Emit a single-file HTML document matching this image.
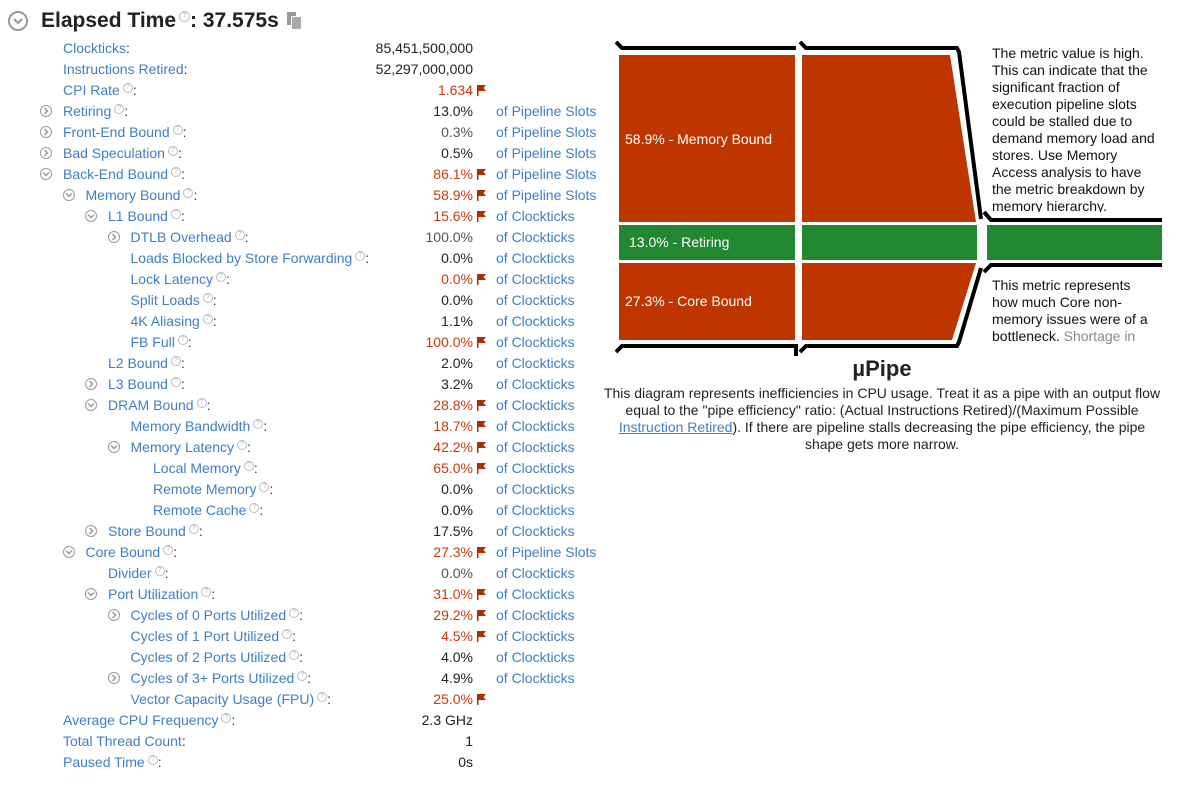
<!DOCTYPE html>
<html><head><meta charset="utf-8">
<style>
body{margin:0;width:1198px;height:786px;background:#fff;font-family:"Liberation Sans",sans-serif;position:relative;overflow:hidden}
.abs{position:absolute;white-space:nowrap}
.row{position:absolute;left:0;height:21px;line-height:21px;font-size:14px;width:610px}
.lbl{position:absolute;color:#3c7fc7}
.val{position:absolute;right:137px;text-align:right}
.flag{position:absolute;left:477px;top:5px;width:10px;height:11px}
.flag svg{display:block}
.unit{position:absolute;left:496px;color:#3c7fc7}
.tog{position:absolute;width:10px;height:10px;border:1.5px solid #999;border-radius:50%;top:4px}
.tog svg{position:absolute;left:1px;top:1px}
.help{display:inline-block;width:8px;height:8px;border:1px solid #bbb;border-radius:50%;font-size:7px;line-height:8px;text-align:center;color:#bbb;vertical-align:6px;margin-left:3px}
.rt{position:absolute;font-size:14px;line-height:17px;color:#111;width:168px;white-space:normal;overflow:hidden}
</style></head><body>
<div class="abs" style="left:8px;top:11px;width:16px;height:16px;border:2px solid #999;border-radius:50%">
<svg width="16" height="16"><path d="M4 6 L8 10 L12 6" fill="none" stroke="#999" stroke-width="2"/></svg></div>
<div class="abs" style="left:41px;top:9px;font-size:21px;font-weight:bold;color:#222">Elapsed Time<span class="help" style="width:9px;height:9px;vertical-align:10px">?</span>: 37.575s</div>
<div class="abs" style="left:287px;top:12px;width:9px;height:13px;background:#999"><div style="position:absolute;left:4px;top:4px;width:9px;height:12px;background:#aaa;border-left:1px solid #fff;border-top:1px solid #fff"></div></div>
<div id="rows"></div>

<svg class="abs" style="left:0;top:0" width="1198" height="786">
<g>
<rect x="619" y="55" width="176" height="167" fill="#bf3500"/>
<polygon points="802,55 950,55 976,222 802,222" fill="#bf3500"/></g>
<g>
<rect x="619" y="225" width="176" height="35" fill="#218731"/>
<rect x="802" y="225" width="175" height="35" fill="#218731"/>
<rect x="987" y="225" width="175" height="35" fill="#218731"/></g>
<g>
<rect x="619" y="263" width="176" height="77" fill="#bf3500"/>
<polygon points="802,263 976,263 952,340 802,340" fill="#bf3500"/></g>
<g fill="none" stroke="#000" stroke-width="4">
<polyline points="616,42 622,48 796,48"/>
<polyline points="800,42 806,48 957,48 959,52 981,219"/>
<polyline points="984,212 991,220 1162,220"/>
<polyline points="616,352 622,346 796,346 796,356"/>
<polyline points="800,352 806,346 957,346 959,342 981,268"/>
<polyline points="984,272 991,265 1162,265"/>
</g>
<text x="625" y="144" font-size="14" fill="#fff" font-family="Liberation Sans">58.9% - Memory Bound</text>
<text x="629" y="247" font-size="14" fill="#fff" font-family="Liberation Sans">13.0% - Retiring</text>
<text x="625" y="306" font-size="14" fill="#fff" font-family="Liberation Sans">27.3% - Core Bound</text>
</svg>
<div class="rt" style="left:992px;top:45px;height:167px">The metric value is high. This can indicate that the significant fraction of execution pipeline slots could be stalled due to demand memory load and stores. Use Memory Access analysis to have the metric breakdown by memory hierarchy.</div>
<div class="rt" style="left:992px;top:277px;height:68px">This metric represents how much Core non-memory issues were of a bottleneck. <span style="color:#888">Shortage in</span></div>
<div class="abs" style="left:782px;top:356px;width:200px;text-align:center;font-size:22px;font-weight:bold;color:#222">µPipe</div>
<div class="abs" style="left:600px;top:385px;width:564px;white-space:normal;text-align:center;font-size:14px;line-height:17px;color:#222">This diagram represents inefficiencies in CPU usage. Treat it as a pipe with an output flow equal to the "pipe efficiency" ratio: (Actual Instructions Retired)/(Maximum Possible <a style="color:#3c7fc7;text-decoration:underline">Instruction Retired</a>). If there are pipeline stalls decreasing the pipe efficiency, the pipe shape gets more narrow.</div>

<script>
const labels=["Clockticks","Instructions Retired","CPI Rate","Retiring","Front-End Bound","Bad Speculation","Back-End Bound","Memory Bound","L1 Bound","DTLB Overhead","Loads Blocked by Store Forwarding","Lock Latency","Split Loads","4K Aliasing","FB Full","L2 Bound","L3 Bound","DRAM Bound","Memory Bandwidth","Memory Latency","Local Memory","Remote Memory","Remote Cache","Store Bound","Core Bound","Divider","Port Utilization","Cycles of 0 Ports Utilized","Cycles of 1 Port Utilized","Cycles of 2 Ports Utilized","Cycles of 3+ Ports Utilized","Vector Capacity Usage (FPU)","Average CPU Frequency","Total Thread Count","Paused Time"];
const levels=[0,0,0,0,0,0,0,1,2,3,3,3,3,3,3,2,2,2,3,3,4,4,4,2,1,2,2,3,3,3,3,3,0,0,0];
const toggles=["","","","c","c","c","o","o","o","c","","","","","","","c","o","","o","","","","c","o","","o","c","","","c","","","",""];
const values=["85,451,500,000","52,297,000,000","1.634","13.0%","0.3%","0.5%","86.1%","58.9%","15.6%","100.0%","0.0%","0.0%","0.0%","1.1%","100.0%","2.0%","3.2%","28.8%","18.7%","42.2%","65.0%","0.0%","0.0%","17.5%","27.3%","0.0%","31.0%","29.2%","4.5%","4.0%","4.9%","25.0%","2.3 GHz","1","0s"];
const flagged=[0,0,1,0,0,0,1,1,1,0,0,1,0,0,1,0,0,1,1,1,1,0,0,0,1,0,1,1,1,0,0,1,0,0,0];
const units=["","","","P","P","P","P","P","C","C","C","C","C","C","C","C","C","C","C","C","C","C","C","C","P","C","C","C","C","C","C","","","",""];
const noHelp=[0,1,33];
const grey=[4,9,25];
const host=document.getElementById('rows');
labels.forEach((t,i)=>{
 const r=document.createElement('div');r.className='row';r.style.top=(38+21*i)+'px';
 
 
 const lx=63+22.5*levels[i];
 const tg=toggles[i];
 if(tg){const c=document.createElement('div');c.className='tog';c.style.left=(lx-23)+'px';
  c.innerHTML=tg==='o'?'<svg width="8" height="8"><path d="M1 2.5 L4 5.5 L7 2.5" fill="none" stroke="#999" stroke-width="1.5"/></svg>':'<svg width="8" height="8"><path d="M2.5 1 L5.5 4 L2.5 7" fill="none" stroke="#999" stroke-width="1.5"/></svg>';
  
  r.appendChild(c);}
 const l=document.createElement('span');l.className='lbl';l.style.left=lx+'px';
 l.innerHTML=t+(noHelp.includes(i)?'':'<span class="help">?</span>')+'<span style="color:#333">:</span>';
 
 r.appendChild(l);
 const v=document.createElement('span');v.className='val';v.textContent=values[i];
 v.style.color=flagged[i]?'#cc3a0a':(grey.includes(i)?'#555':'#222');
 
 r.appendChild(v);
 if(flagged[i]){const f=document.createElement('div');f.className='flag';
  f.innerHTML='<svg width="10" height="11"><rect x="0" y="0" width="1.5" height="11" fill="#b32c00"/><path d="M1.5 0 H9 L6.5 3 L9 6 H1.5Z" fill="#b32c00"/></svg>';
  
  r.appendChild(f);}
 const u=units[i];
 if(u){const s=document.createElement('span');s.className='unit';s.textContent=u==='P'?'of Pipeline Slots':'of Clockticks';
  
  r.appendChild(s);}
 host.appendChild(r);
});
</script>
</body></html>
